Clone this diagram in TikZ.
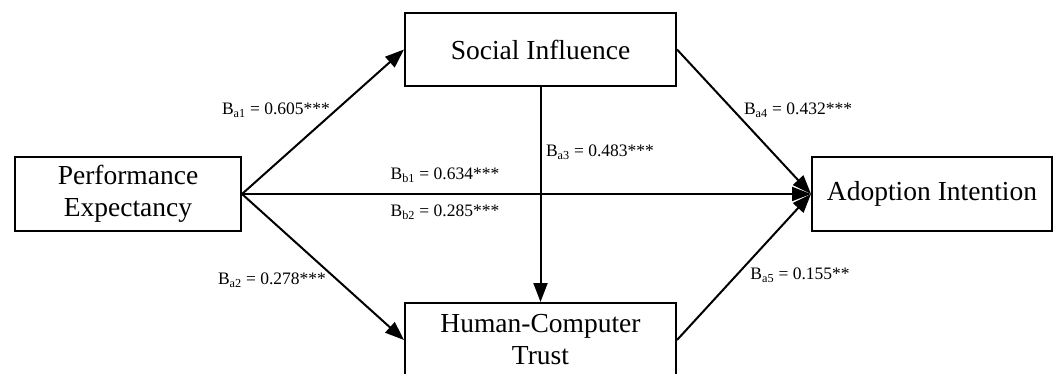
\documentclass[tikz,border=0pt]{standalone}
\usepackage{fontspec}
\setmainfont{Liberation Serif}
\usetikzlibrary{arrows.meta}
\begin{document}
\begin{tikzpicture}[x=1pt,y=-1pt,
  box/.style={draw, line width=2pt, inner sep=0pt, align=center,
    font=\fontsize{27.5}{32}\selectfont},
  conn/.style={line width=2pt, -{Triangle[length=19pt,width=14pt]}},
  lbl/.style={inner sep=0pt, font=\fontsize{17.5}{20}\selectfont}]
\useasboundingbox (0,0) rectangle (1056,374);
\clip (0,0) rectangle (1056,374);
\node[box, minimum width=226pt, minimum height=74pt] (pe) at (128,194) {Performance\\Expectancy};
\node[box, minimum width=271pt, minimum height=73pt] (si) at (540.5,49.5) {Social Influence};
\node[box, minimum width=271pt, minimum height=74pt] (hct) at (540.5,340) {Human-Computer\\Trust};
\node[box, minimum width=240pt, minimum height=73pt] (ai) at (932,194) {Adoption Intention};
\draw[conn] (pe.east) -- (si.west);
\draw[conn] (pe.east) -- (hct.west);
\draw[conn] (pe.east) -- (ai.west);
\draw[conn] (si.south) -- (hct.north);
\draw[conn] (si.east) -- (ai.west);
\draw[conn] (hct.east) -- (ai.west);
\node[lbl] (la1) at (276,110) {B\textsubscript{a1} = 0.605***};
\node[lbl] (la2) at (272,280) {B\textsubscript{a2} = 0.278***};
\node[lbl] (lb1) at (445,175) {B\textsubscript{b1} = 0.634***};
\node[lbl] (lb2) at (445,212) {B\textsubscript{b2} = 0.285***};
\node[lbl] (la3) at (600,152) {B\textsubscript{a3} = 0.483***};
\node[lbl] (la4) at (798,110) {B\textsubscript{a4} = 0.432***};
\node[lbl] (la5) at (800,275) {B\textsubscript{a5} = 0.155**};
\end{tikzpicture}
\end{document}
